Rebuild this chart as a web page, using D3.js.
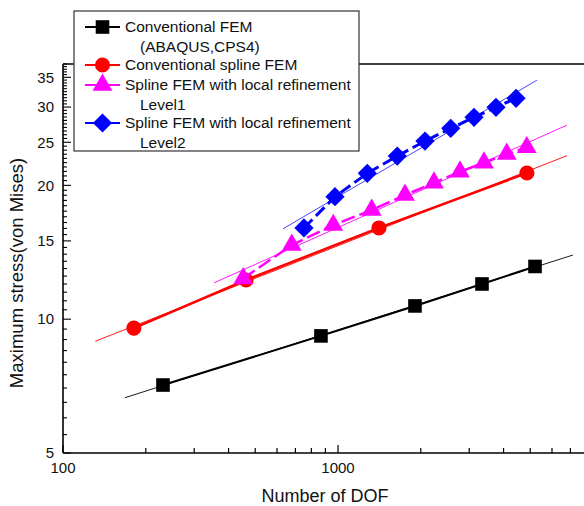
<!DOCTYPE html>
<html>
  <head>
    <meta charset="utf-8">
    <title>Maximum stress vs DOF</title>
    <script src="https://cdn.jsdelivr.net/npm/d3@7"></script>
    <style>
      body
      {
        margin: 0px;
        padding: 0px;
        background: white;
        font-family: Arial, "Liberation Sans", sans-serif;
      }

      svg
      {
        display: block;
      }

      .tickLabel
      {
        font-size: 15px;
        fill: #111;
      }

      .axisTitle
      {
        font-size: 18.5px;
        fill: #111;
      }

      .legendText
      {
        font-size: 15.5px;
        fill: #111;
      }
    </style>
  </head>
  <body>
    <svg id="chart"></svg>

    <script>

      //--- Data (DOF, von Mises stress)
      var fem_dof = [231, 867, 1905, 3339, 5205];
      var fem_stress = [7.11, 9.17, 10.71, 12.0, 13.14];

      var spline_dof = [181, 463, 1409, 4863];
      var spline_stress = [9.55, 12.25, 16.04, 21.32];

      var level1_dof = [452, 679, 961, 1326, 1752, 2234, 2777, 3395, 4108, 4857];
      var level1_stress = [12.35, 14.68, 16.28, 17.6, 19.02, 20.27, 21.46, 22.49, 23.52, 24.35];

      var level2_dof = [752, 975, 1278, 1643, 2072, 2570, 3123, 3754, 4440];
      var level2_stress = [16.04, 18.86, 21.29, 23.28, 25.16, 26.87, 28.45, 29.97, 31.4];

      //--- Extent of the thin fit line of each series (DOF)
      var fem_fit = [168, 7150];
      var spline_fit = [131, 6800];
      var level1_fit = [354, 6800];
      var level2_fit = [631, 5290];

      var xTickLabels = [100, 1000];
      var yTickLabels = [5, 10, 15, 20, 25, 30, 35];

      var legendLabels = [
        ["Conventional FEM", "(ABAQUS,CPS4)"],
        ["Conventional spline FEM"],
        ["Spline FEM with local refinement", "Level1"],
        ["Spline FEM with local refinement", "Level2"]
      ];

      var width = 584;
      var height = 506;
      var plot = { left: 63, right: 613, top: 64, bottom: 453 };

      var svg = d3.select("#chart")
          .attr("width", width)
          .attr("height", height);

      var x = d3.scaleLog().domain([100, 10000]).range([plot.left, plot.right]);
      var y = d3.scaleLog().domain([5, 37.5]).range([plot.bottom, plot.top]);

      var series = [
        { dof: fem_dof, stress: fem_stress, fit: fem_fit, color: "#000000", fitColor: "#000000",
          symbol: d3.symbolSquare, size: 185, rotate: 0, dash: null, width: 2 },
        { dof: spline_dof, stress: spline_stress, fit: spline_fit, color: "#ff0000", fitColor: "#ff0000",
          symbol: d3.symbolCircle, size: 180, rotate: 0, dash: null, width: 2.5 },
        { dof: level1_dof, stress: level1_stress, fit: level1_fit, color: "#ff00ff", fitColor: "#ff00ff",
          symbol: d3.symbolTriangle, size: 170, rotate: 0, dash: "14,5", width: 2.5 },
        { dof: level2_dof, stress: level2_stress, fit: level2_fit, color: "#0000ff", fitColor: "#3333ff",
          symbol: d3.symbolSquare, size: 185, rotate: 45, dash: "12,5", width: 3 }
      ];

      //--- Least squares in log-log space
      function logFit(xs, ys)
      {
        var lx = xs.map(Math.log10), ly = ys.map(Math.log10);
        var mx = d3.mean(lx), my = d3.mean(ly);
        var num = d3.sum(lx, (v, i) => (v - mx) * (ly[i] - my));
        var den = d3.sum(lx, v => (v - mx) * (v - mx));
        var b = num / den;
        var a = my - b * mx;
        return v => Math.pow(10, a + b * Math.log10(v));
      }

      var line = d3.line().x(d => x(d[0])).y(d => y(d[1]));

      //--- Frame: x axis, left axis, top border
      var frame = svg.append("g");

      frame.append("line")
        .attr("x1", plot.left).attr("x2", width)
        .attr("y1", plot.bottom).attr("y2", plot.bottom)
        .attr("stroke", "#000").attr("stroke-width", 1.6);

      frame.append("line")
        .attr("x1", plot.left).attr("x2", width)
        .attr("y1", plot.top).attr("y2", plot.top)
        .attr("stroke", "#000").attr("stroke-width", 1.6);

      frame.append("line")
        .attr("x1", plot.left).attr("x2", plot.left)
        .attr("y1", plot.top).attr("y2", plot.bottom)
        .attr("stroke", "#000").attr("stroke-width", 1.6);

      //--- X ticks (inward)
      var xTicks = x.ticks().filter(v => x(v) <= width);
      frame.selectAll(".xtick")
        .data(xTicks)
        .enter()
          .append("line")
            .attr("x1", d => x(d)).attr("x2", d => x(d))
            .attr("y1", plot.bottom)
            .attr("y2", d => plot.bottom - (xTickLabels.includes(d) ? 8 : 5))
            .attr("stroke", "#000").attr("stroke-width", 1.2);

      frame.selectAll(".xlabel")
        .data(xTickLabels)
        .enter()
          .append("text")
            .classed("tickLabel", true)
            .attr("x", d => x(d))
            .attr("y", plot.bottom + 20)
            .attr("text-anchor", "middle")
            .text(d => d);

      //--- Y ticks (inward), minor every 0.5
      var yTicks = d3.range(5, 37.51, 0.5);
      frame.selectAll(".ytick")
        .data(yTicks)
        .enter()
          .append("line")
            .attr("x1", plot.left)
            .attr("x2", d => plot.left + (d % 5 === 0 ? 8 : 4))
            .attr("y1", d => y(d)).attr("y2", d => y(d))
            .attr("stroke", "#000").attr("stroke-width", 1.1);

      frame.selectAll(".ylabel")
        .data(yTickLabels)
        .enter()
          .append("text")
            .classed("tickLabel", true)
            .attr("x", plot.left - 9)
            .attr("y", d => y(d))
            .attr("dy", "0.35em")
            .attr("text-anchor", "end")
            .text(d => d);

      //--- Axis titles
      svg.append("text")
        .classed("axisTitle", true)
        .attr("x", 325)
        .attr("y", 502)
        .attr("text-anchor", "middle")
        .style("font-size", "18px")
        .text("Number of DOF");

      svg.append("text")
        .classed("axisTitle", true)
        .attr("transform", "translate(17,273) rotate(-90)")
        .attr("dy", "0.35em")
        .attr("text-anchor", "middle")
        .text("Maximum stress(von Mises)");

      //--- Series: thin fit line, thick connecting line, symbols
      series.forEach(function (s)
      {
        var f = logFit(s.dof, s.stress);
        var pts = s.dof.map((v, i) => [v, s.stress[i]]);

        svg.append("path")
          .attr("d", line([[s.fit[0], f(s.fit[0])], [s.fit[1], f(s.fit[1])]]))
          .attr("fill", "none")
          .attr("stroke", s.fitColor)
          .attr("stroke-width", 0.9);

        svg.append("path")
          .attr("d", line(pts))
          .attr("fill", "none")
          .attr("stroke", s.color)
          .attr("stroke-width", s.width)
          .attr("stroke-dasharray", s.dash);

        svg.append("g")
          .selectAll("path")
          .data(pts)
          .enter()
            .append("path")
              .attr("d", d3.symbol().type(s.symbol).size(s.size))
              .attr("transform", d => "translate(" + x(d[0]) + "," + y(d[1]) + ") rotate(" + s.rotate + ")")
              .attr("fill", s.color);
      });

      //--- Legend
      var legend = svg.append("g");
      legend.append("rect")
        .attr("x", 74).attr("y", 11)
        .attr("width", 285).attr("height", 140)
        .attr("fill", "white")
        .attr("stroke", "#333").attr("stroke-width", 1.2);

      var rowY = [27, 65, 85, 123];
      var rowH = 19.3;
      series.forEach(function (s, i)
      {
        var ly = rowY[i];
        legend.append("line")
          .attr("x1", 85).attr("x2", 120)
          .attr("y1", ly).attr("y2", ly)
          .attr("stroke", s.color).attr("stroke-width", 2);

        legend.append("path")
          .attr("d", d3.symbol().type(s.symbol).size(s.size))
          .attr("transform", "translate(102.5," + ly + ") rotate(" + s.rotate + ")")
          .attr("fill", s.color);

        legendLabels[i].forEach(function (t, j)
        {
          legend.append("text")
            .classed("legendText", true)
            .attr("x", j === 0 ? 125 : 140)
            .attr("y", ly + j * rowH)
            .attr("dy", "0.35em")
            .text(t);
        });
      });

    </script>
  </body>
</html>
